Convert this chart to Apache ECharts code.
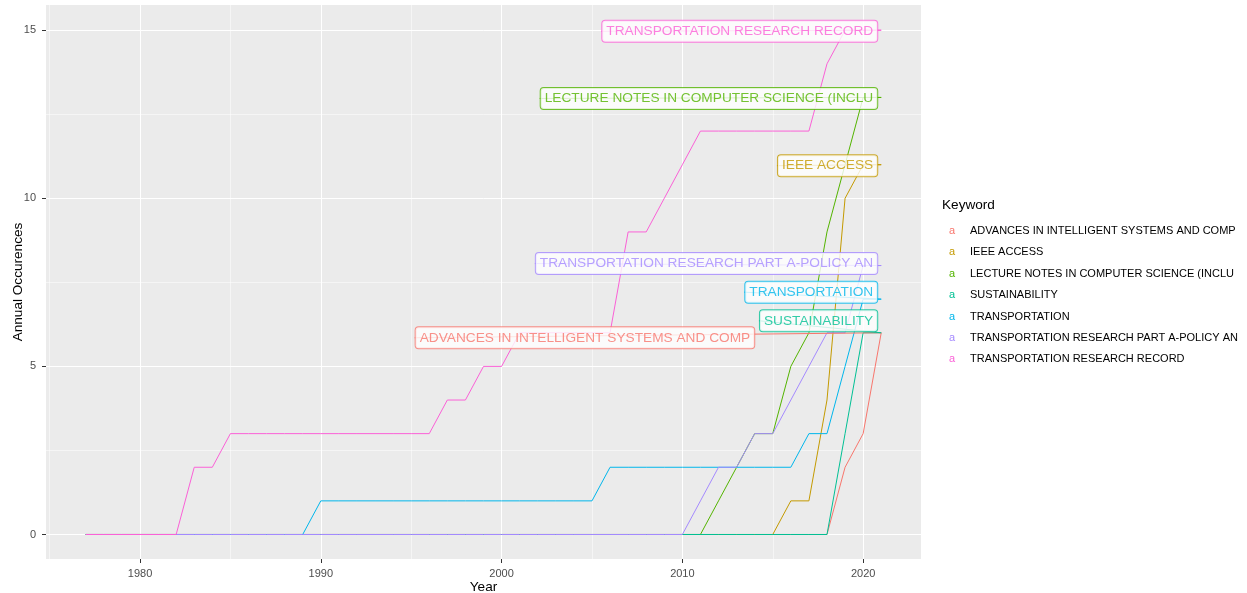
<!DOCTYPE html>
<html>
<head>
<meta charset="utf-8">
<script src="https://cdn.jsdelivr.net/npm/echarts@6/dist/echarts.min.js"></script>
<style>
html, body { margin: 0; padding: 0; background: #fff; }
#chart { width: 1247px; height: 593px; }
</style>
</head>
<body>
<div id="chart"></div>
<script>
var years = [1977, 1978, 1979, 1980, 1981, 1982, 1983, 1984, 1985, 1986,
             1987, 1988, 1989, 1990, 1991, 1992, 1993, 1994, 1995, 1996,
             1997, 1998, 1999, 2000, 2001, 2002, 2003, 2004, 2005, 2006,
             2007, 2008, 2009, 2010, 2011, 2012, 2013, 2014, 2015, 2016,
             2017, 2018, 2019, 2020, 2021];

var keywords = [
    'ADVANCES IN INTELLIGENT SYSTEMS AND COMP',
    'IEEE ACCESS',
    'LECTURE NOTES IN COMPUTER SCIENCE (INCLU',
    'SUSTAINABILITY',
    'TRANSPORTATION',
    'TRANSPORTATION RESEARCH PART A-POLICY AN',
    'TRANSPORTATION RESEARCH RECORD'
];

// annual occurences, one value per year above
var advances = [0, 0, 0, 0, 0, 0, 0, 0, 0, 0,
                0, 0, 0, 0, 0, 0, 0, 0, 0, 0,
                0, 0, 0, 0, 0, 0, 0, 0, 0, 0,
                0, 0, 0, 0, 0, 0, 0, 0, 0, 0,
                0, 0, 2, 3, 6];
var ieee = [0, 0, 0, 0, 0, 0, 0, 0, 0, 0,
            0, 0, 0, 0, 0, 0, 0, 0, 0, 0,
            0, 0, 0, 0, 0, 0, 0, 0, 0, 0,
            0, 0, 0, 0, 0, 0, 0, 0, 0, 1,
            1, 4, 10, 11, 11];
var lecture = [0, 0, 0, 0, 0, 0, 0, 0, 0, 0,
               0, 0, 0, 0, 0, 0, 0, 0, 0, 0,
               0, 0, 0, 0, 0, 0, 0, 0, 0, 0,
               0, 0, 0, 0, 0, 1, 2, 3, 3, 5,
               6, 9, 11, 13, 13];
var sustainability = [0, 0, 0, 0, 0, 0, 0, 0, 0, 0,
                      0, 0, 0, 0, 0, 0, 0, 0, 0, 0,
                      0, 0, 0, 0, 0, 0, 0, 0, 0, 0,
                      0, 0, 0, 0, 0, 0, 0, 0, 0, 0,
                      0, 0, 3, 6, 6];
var transportation = [0, 0, 0, 0, 0, 0, 0, 0, 0, 0,
                      0, 0, 0, 1, 1, 1, 1, 1, 1, 1,
                      1, 1, 1, 1, 1, 1, 1, 1, 1, 2,
                      2, 2, 2, 2, 2, 2, 2, 2, 2, 2,
                      3, 3, 5, 7, 7];
var trpa = [0, 0, 0, 0, 0, 0, 0, 0, 0, 0,
            0, 0, 0, 0, 0, 0, 0, 0, 0, 0,
            0, 0, 0, 0, 0, 0, 0, 0, 0, 0,
            0, 0, 0, 0, 1, 2, 2, 3, 3, 4,
            5, 6, 6, 8, 8];
var trr = [0, 0, 0, 0, 0, 0, 2, 2, 3, 3,
           3, 3, 3, 3, 3, 3, 3, 3, 3, 3,
           4, 4, 5, 5, 6, 6, 6, 6, 6, 6,
           9, 9, 10, 11, 12, 12, 12, 12, 12, 12,
           12, 14, 15, 15, 15];

var seriesValues = [advances, ieee, lecture, sustainability, transportation, trpa, trr];
var colors = ['#F8766D', '#C49A00', '#53B400', '#00C094', '#00B6EB', '#A58AFF', '#FB61D7'];
// pixel nudges for the end labels (repel-style)
var labelShift = [[-123, 5], [0, 1], [0, 1], [0, -12], [0, -7], [0, -2], [0, 1]];

var font = '"Liberation Sans", Arial, sans-serif';

function pairs(values) {
    var out = [];
    for (var i = 0; i < years.length; i++) {
        out.push([years[i], values[i]]);
    }
    return out;
}

var series = keywords.map(function (name, i) {
    return {
        name: name,
        type: 'line',
        data: pairs(seriesValues[i]),
        showSymbol: false,
        lineStyle: { width: 1, color: colors[i] },
        itemStyle: { color: colors[i] },
        emphasis: { disabled: true },
        z: 2
    };
});

var last = years.length - 1;
series.push({
    type: 'scatter',
    name: 'labels',
    z: 10,
    silent: true,
    symbolSize: 0,
    data: keywords.map(function (name, i) {
        return {
            name: name,
            value: [years[last], seriesValues[i][last]],
            label: { color: colors[i], borderColor: colors[i] },
            labelLine: { lineStyle: { color: colors[i] } }
        };
    }),
    label: {
        show: true,
        formatter: '{b}',
        position: 'left',
        distance: 4,
        backgroundColor: '#fff',
        borderWidth: 1,
        borderRadius: 3,
        padding: [4, 4, 3, 4],
        fontSize: 13.7,
        lineHeight: 14,
        fontFamily: font
    },
    labelLine: { show: true, lineStyle: { width: 1 } },
    labelLayout: function (p) {
        var s = labelShift[p.dataIndex];
        return { dx: s[0], dy: s[1] };
    }
});

var rich = {};
colors.forEach(function (c, i) {
    rich['k' + i] = { color: c, width: 21, fontSize: 11, lineHeight: 14, fontFamily: font };
});
rich.t = { color: '#000', fontSize: 11, lineHeight: 14, fontFamily: font };

var myChart = echarts.init(document.getElementById('chart'));
var option = {
    animation: false,
    title: {
        text: 'Keyword',
        left: 942,
        top: 198,
        padding: 0,
        textStyle: { fontSize: 13.6, fontWeight: 'normal', color: '#000', fontFamily: font }
    },
    legend: {
        orient: 'vertical',
        left: 943,
        top: 224,
        padding: 0,
        itemGap: 7.4,
        itemWidth: 0,
        itemHeight: 0,
        selectedMode: false,
        data: keywords,
        formatter: function (name) {
            return '{k' + keywords.indexOf(name) + '|a}{t|' + name + '}';
        },
        textStyle: { fontSize: 11, lineHeight: 14, color: '#000', fontFamily: font, rich: rich }
    },
    grid: {
        left: 46,
        right: 326,
        top: 5,
        bottom: 34,
        show: true,
        backgroundColor: '#EBEBEB',
        borderWidth: 0,
        containLabel: false,
        outerBoundsMode: 'none'
    },
    xAxis: {
        type: 'value',
        min: 1974.8,
        max: 2023.2,
        minInterval: 10,
        maxInterval: 10,
        name: 'Year',
        nameLocation: 'middle',
        nameGap: 21,
        nameMoveOverlap: false,
        nameTextStyle: { fontSize: 13.6, color: '#000', fontFamily: font },
        axisLine: { show: false, onZero: false },
        axisTick: { show: true, length: 4, lineStyle: { color: '#333333', width: 1 } },
        axisLabel: {
            color: '#4D4D4D', fontSize: 11, margin: 9, fontFamily: font,
            showMinLabel: false, showMaxLabel: false,
            formatter: function (v) { return String(v); }
        },
        splitLine: { show: true, showMinLine: false, showMaxLine: false, lineStyle: { color: '#fff', width: 1 } },
        minorTick: { show: false, splitNumber: 2 },
        minorSplitLine: { show: true, lineStyle: { color: '#fff', width: 0.5 } }
    },
    yAxis: {
        type: 'value',
        // -0.729 (instead of -0.75) puts the zero line on a pixel centre so it stays crisp
        min: -0.729,
        max: 15.75,
        minInterval: 5,
        maxInterval: 5,
        name: 'Annual Occurences',
        nameLocation: 'middle',
        nameGap: 21,
        nameMoveOverlap: false,
        nameTextStyle: { fontSize: 13.6, color: '#000', fontFamily: font },
        axisLine: { show: false, onZero: false },
        axisTick: { show: true, length: 4, lineStyle: { color: '#333333', width: 1 } },
        axisLabel: { color: '#4D4D4D', fontSize: 11, margin: 10, fontFamily: font, showMinLabel: false, showMaxLabel: false },
        splitLine: { show: true, showMinLine: false, showMaxLine: false, lineStyle: { color: '#fff', width: 1 } },
        minorTick: { show: false, splitNumber: 2 },
        minorSplitLine: { show: true, lineStyle: { color: '#fff', width: 0.5 } }
    },
    series: series
};
myChart.setOption(option);
</script>
</body>
</html>
